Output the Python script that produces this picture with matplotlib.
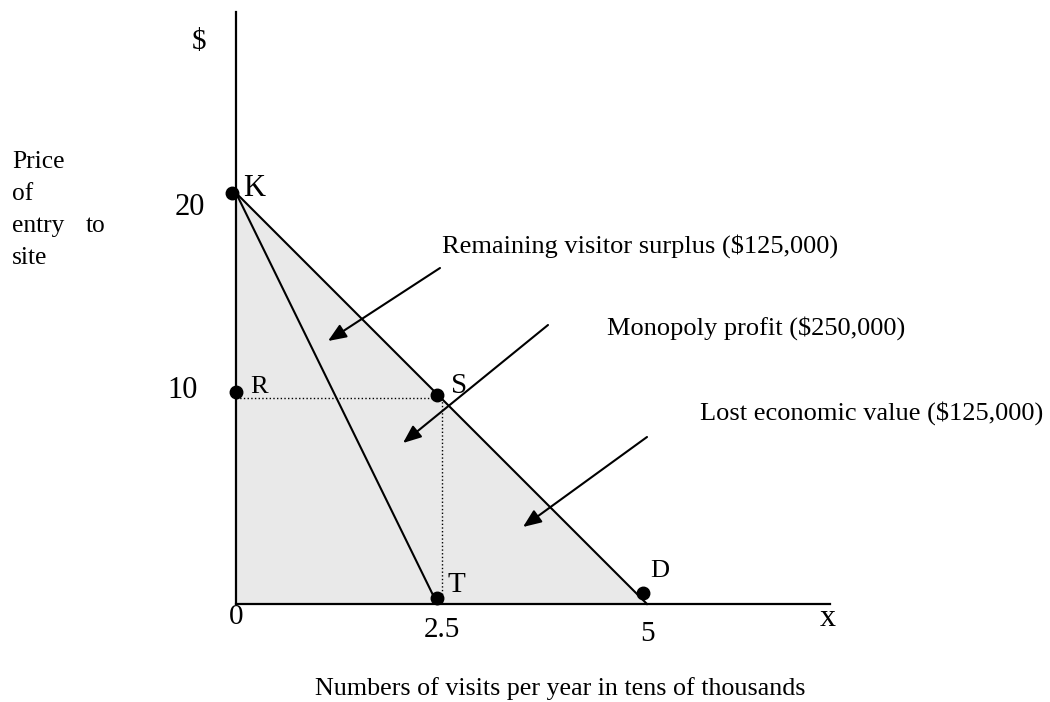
import matplotlib.pyplot as plt

plt.rcParams['font.family'] = ['Liberation Serif', 'DejaVu Serif']

# demand line and marginal revenue line (x in tens of thousands of visits, y in $)
demand_x = [0, 5]
demand_y = [20, 0]
mr_x = [0, 2.45]
mr_y = [20, 0]

# shaded area under demand
shade_x = [0, 0, 5]
shade_y = [20, 0, 0]

# monopoly price / quantity
price_m = 10
qty_m = 2.5

# labelled points (as drawn)
pt_names = ['K', 'R', 'S', 'T', 'D']
pt_x = [-0.05, 0, 2.45, 2.45, 4.95]
pt_y = [20.0, 10.3, 10.15, 0.3, 0.55]

x_ticks = [0, 2.5, 5]
x_tick_labels = ['0', '2.5', '5']
y_ticks = [20, 10]
y_tick_labels = ['20', '10']

# pixel <-> data helpers (axis origin at pixel 236, 604)
XS = 82.2
YS = 20.55


def px(p):
    return (p - 236) / XS


def py(p):
    return (604 - p) / YS


fig = plt.figure(figsize=(10.5, 7.02), dpi=100)
ax = fig.add_axes([0, 0, 1, 1])
ax.set_xlim(px(0), px(1050))
ax.set_ylim(py(702), py(0))
ax.axis('off')

ax.fill(shade_x, shade_y, color='#e9e9e9', lw=0, zorder=1)

# axes
ax.plot([0, 0], [0, py(12)], color='black', lw=1.6, zorder=3)
ax.plot([0, px(830)], [0, 0], color='black', lw=1.6, zorder=3)

ax.plot(demand_x, demand_y, color='black', lw=1.5, zorder=3)
ax.plot(mr_x, mr_y, color='black', lw=1.5, zorder=3)

ax.plot([0, qty_m], [price_m, price_m], color='black', lw=1, ls=':', zorder=2)
ax.plot([qty_m, qty_m], [price_m, 0], color='black', lw=1, ls=':', zorder=2)

ax.plot(pt_x, pt_y, 'o', color='black', ms=9, zorder=4)

lab_off = {'K': (254, 189, 22), 'R': (259, 387, 19), 'S': (459, 386, 21),
           'T': (456, 585, 21), 'D': (660, 571, 19)}
for name in pt_names:
    lx, ly, fs = lab_off[name]
    ax.text(px(lx), py(ly), name, fontsize=fs, ha='center', va='center')

# tick labels
x_lab_y = {0: 617, 2.5: 630, 5: 634}
for v, s in zip(x_ticks, x_tick_labels):
    ax.text(v, py(x_lab_y[v]), s, fontsize=21, ha='center', va='center')
y_lab_pos = {20: (190, 208), 10: (183, 391)}
for v, s in zip(y_ticks, y_tick_labels):
    lx, ly = y_lab_pos[v]
    ax.text(px(lx), py(ly), s, fontsize=22, ha='center', va='center')

ax.text(px(199), py(42), '$', fontsize=21, ha='center', va='center')
ax.text(px(828), py(618), 'x', fontsize=23, ha='center', va='center')

# y label, justified lines
ax.text(px(12), py(168), 'Price', fontsize=18.4, ha='left', va='baseline')
ax.text(px(12), py(200), 'of', fontsize=18.4, ha='left', va='baseline')
ax.text(px(12), py(232), 'entry', fontsize=18.4, ha='left', va='baseline')
ax.text(px(106), py(232), 'to', fontsize=18.4, ha='right', va='baseline')
ax.text(px(12), py(264), 'site', fontsize=18.4, ha='left', va='baseline')

ax.text(px(315), py(695), 'Numbers of visits per year in tens of thousands',
        fontsize=18.7, ha='left', va='baseline')

# annotations with arrows
arrow = dict(arrowstyle='-|>,head_length=1.1,head_width=0.45', color='black',
             lw=1.5, shrinkA=0, shrinkB=0)
ax.text(px(442), py(253), 'Remaining visitor surplus ($125,000)', fontsize=19,
        ha='left', va='baseline')
ax.annotate('', xy=(px(328), py(341)), xytext=(px(440), py(268)), arrowprops=arrow)

ax.text(px(607), py(335), 'Monopoly profit ($250,000)', fontsize=19,
        ha='left', va='baseline')
ax.annotate('', xy=(px(403), py(443)), xytext=(px(548), py(325)), arrowprops=arrow)

ax.text(px(700), py(420), 'Lost economic value ($125,000)', fontsize=19,
        ha='left', va='baseline')
ax.annotate('', xy=(px(523), py(527)), xytext=(px(647), py(437)), arrowprops=arrow)

fig.savefig('out.png', dpi=100)
